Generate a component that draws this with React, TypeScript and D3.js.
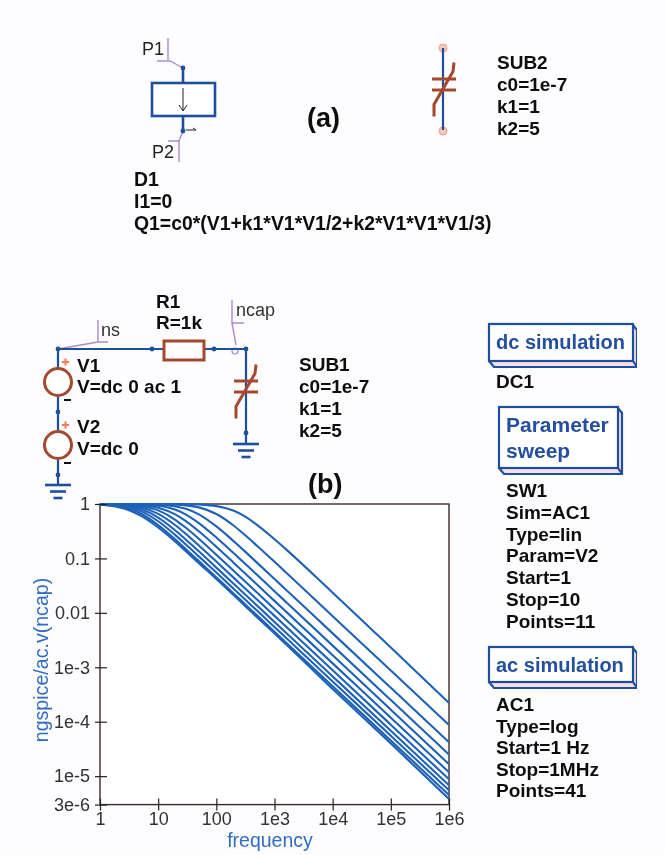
import React, { useEffect, useRef } from 'react';
import * as d3 from 'd3';

const frequencies = [1, 2, 3, 5, 10, 20, 30, 50, 100, 200, 300, 500, 1e3, 1e4, 1e5, 1e6];

// one row per Param=V2 step, top curve first.
// Ends and spot checks, the knees estimated with a
// first-order roll-off shape fitted to those readings, so not all are direct reads.
const sweepCurves: number[][] = [
  [1, 1, 1, 1, 0.999, 0.996, 0.991, 0.977, 0.915, 0.75, 0.603, 0.413, 0.225, 0.0235, 2.3e-3, 2.2e-4],
  [1, 1, 0.999, 0.998, 0.993, 0.975, 0.945, 0.867, 0.656, 0.399, 0.278, 0.171, 0.0867, 8.7e-3, 8.7e-4, 8.7e-5],
  [1, 0.999, 0.997, 0.993, 0.973, 0.903, 0.814, 0.643, 0.387, 0.206, 0.139, 0.0837, 0.042, 4.2e-3, 4.2e-4, 4.2e-5],
  [0.999, 0.997, 0.993, 0.981, 0.928, 0.781, 0.64, 0.447, 0.243, 0.124, 0.083, 0.05, 0.025, 2.5e-3, 2.5e-4, 2.5e-5],
  [0.998, 0.993, 0.984, 0.957, 0.857, 0.639, 0.484, 0.315, 0.164, 0.0827, 0.0553, 0.0332, 0.0166, 1.66e-3, 1.66e-4, 1.66e-5],
  [0.996, 0.986, 0.969, 0.921, 0.763, 0.508, 0.366, 0.23, 0.117, 0.0589, 0.0393, 0.0236, 0.0118, 1.18e-3, 1.18e-4, 1.18e-5],
  [0.994, 0.975, 0.947, 0.869, 0.66, 0.403, 0.281, 0.173, 0.0877, 0.0439, 0.0293, 0.0176, 8.8e-3, 8.8e-4, 8.8e-5, 8.8e-6],
  [0.989, 0.959, 0.915, 0.806, 0.562, 0.322, 0.221, 0.135, 0.0678, 0.034, 0.0227, 0.0136, 6.8e-3, 6.8e-4, 6.8e-5, 6.8e-6],
  [0.984, 0.94, 0.878, 0.74, 0.482, 0.265, 0.18, 0.109, 0.0549, 0.0275, 0.0183, 0.011, 5.5e-3, 5.5e-4, 5.5e-5, 5.5e-6],
  [0.976, 0.914, 0.832, 0.669, 0.41, 0.22, 0.148, 0.0896, 0.045, 0.0225, 0.015, 9e-3, 4.5e-3, 4.5e-4, 4.5e-5, 4.5e-6],
  [0.967, 0.885, 0.785, 0.61, 0.37, 0.2, 0.135, 0.082, 0.042, 0.021, 0.0139, 8.3e-3, 4.2e-3, 4e-4, 4e-5, 3.8e-6],
];

const xTicks = [1, 10, 100, 1e3, 1e4, 1e5, 1e6];
const xTickLabels = ['1', '10', '100', '1e3', '1e4', '1e5', '1e6'];
const yTicks = [1, 0.1, 0.01, 1e-3, 1e-4, 1e-5, 3e-6];
const yTickLabels = ['1', '0.1', '0.01', '1e-3', '1e-4', '1e-5', '3e-6'];

const sub2Lines = ['SUB2', 'c0=1e-7', 'k1=1', 'k2=5'];
const sub1Lines = ['SUB1', 'c0=1e-7', 'k1=1', 'k2=5'];
const d1Lines = ['D1', 'I1=0', 'Q1=c0*(V1+k1*V1*V1/2+k2*V1*V1*V1/3)'];
const sweepLines = ['SW1', 'Sim=AC1', 'Type=lin', 'Param=V2', 'Start=1', 'Stop=10', 'Points=11'];
const acLines = ['AC1', 'Type=log', 'Start=1 Hz', 'Stop=1MHz', 'Points=41'];

const WIRE = '#1f4f9f';
const BROWN = '#a5492f';
const PURPLE = '#a98cc8';
const CURVE = '#1f62b8';
const LABEL = '#2f6cc4';
const INK = '#111';
const FONT = '"Liberation Sans", Arial, sans-serif';

const x = d3.scaleLog().domain([1, 1e6]).range([100, 449]);
const y = d3.scaleLog().domain([3e-6, 1]).range([804.6, 504]);

const curveLine = d3
  .line<number>()
  .x((_, i) => x(frequencies[i]))
  .y((d) => y(d))
  .curve(d3.curveMonotoneX);

const Text = ({ x, y, lines, step = 22, size = 19 }: any) => (
  <g fontFamily={FONT} fontWeight="bold" fontSize={size} fill={INK}>
    {lines.map((t: string, i: number) => (
      <text key={t} x={x} y={y + i * step}>
        {t}
      </text>
    ))}
  </g>
);

const Dot = ({ x, y }: any) => <circle cx={x} cy={y} r={2.4} fill={WIRE} />;

const Ground = ({ x, y }: any) => (
  <g stroke={WIRE} strokeWidth={2.6}>
    <line x1={x - 13} x2={x + 13} y1={y} y2={y} />
    <line x1={x - 8} x2={x + 8} y1={y + 6.5} y2={y + 6.5} />
    <line x1={x - 4.5} x2={x + 4.5} y1={y + 13} y2={y + 13} />
  </g>
);

const Cap = ({ x, y }: any) => (
  <g stroke={BROWN} strokeWidth={3} fill="none">
    <line x1={x - 12} x2={x + 12} y1={y - 5.5} y2={y - 5.5} />
    <line x1={x - 12} x2={x + 12} y1={y + 5.5} y2={y + 5.5} />
    <path d={`M${x + 10},${y - 22} L${x + 9},${y - 13} L${x - 10},${y + 20} L${x - 10},${y + 32}`} />
  </g>
);

const Source = ({ x, y }: any) => (
  <g>
    <circle cx={x} cy={y} r={13.5} fill="#fff" stroke={BROWN} strokeWidth={3} />
    <path d={`M${x + 4},${y - 20} h7 M${x + 7.5},${y - 23.5} v7`} stroke="#ef7d55" strokeWidth={2} />
    <line x1={x + 6} x2={x + 13} y1={y + 18} y2={y + 18} stroke={INK} strokeWidth={2} />
  </g>
);

const SimBox = ({ x, y, w, h, lines, size = 20 }: any) => (
  <g>
    <path
      d={`M${x},${y + h} l5,6 h${w - 1} v-${h} l-5,-6 M${x + w},${y + h} l4,6`}
      fill="#f7dfe6"
      stroke={WIRE}
      strokeWidth={2.2}
    />
    <rect x={x} y={y} width={w} height={h} fill="#fff" stroke={WIRE} strokeWidth={2.2} />
    <g fontFamily={FONT} fontWeight="bold" fontSize={size} fill="#24509f">
      {lines.map((t: string, i: number) => (
        <text key={t} x={x + 7} y={y + 25 + i * 26}>
          {t}
        </text>
      ))}
    </g>
  </g>
);

const App = () => {
  const xAxisRef = useRef<SVGGElement>(null);
  const yAxisRef = useRef<SVGGElement>(null);

  useEffect(() => {
    const xAxis = d3
      .axisBottom(x)
      .tickValues(xTicks)
      .tickSize(6)
      .tickPadding(2)
      .tickFormat((_, i) => xTickLabels[i]);
    const yAxis = d3
      .axisLeft(y)
      .tickValues(yTicks)
      .tickSize(5)
      .tickPadding(5)
      .tickFormat((_, i) => yTickLabels[i]);

    const gx = d3.select(xAxisRef.current!).call(xAxis as any);
    const gy = d3.select(yAxisRef.current!).call(yAxis as any);

    gx.select('.domain').remove();
    gy.select('.domain').remove();
    gx.selectAll('.tick line').attr('y1', -6).attr('y2', 6).attr('stroke', '#222').attr('stroke-width', 1.2);
    gy.selectAll('.tick line').attr('x1', -5).attr('x2', 7).attr('stroke', '#222').attr('stroke-width', 1.2);
    gx.selectAll('.tick text').attr('font-size', 18).attr('font-family', FONT).attr('fill', '#333');
    gy.selectAll('.tick text').attr('font-size', 18).attr('font-family', FONT).attr('fill', '#333');
  }, []);

  return (
    <svg
      width={665}
      height={855}
      style={{ position: 'absolute', left: 0, top: 0, background: '#fdfdff' }}
    >
      <defs>
        <filter id="soft" x="0" y="0" width="100%" height="100%">
          <feGaussianBlur stdDeviation="0.4" />
        </filter>
      </defs>
      <g filter="url(#soft)">
        {/* (a) device symbol */}
        <path
          d="M168,38 V60 M157,61 H170 L183,68 M179,140 V162 M168,141 H179 L183,131"
          fill="none"
          stroke={PURPLE}
          strokeWidth={1.4}
        />
        <line x1={183} x2={183} y1={68} y2={131} stroke={WIRE} strokeWidth={2.6} />
        <rect x={152} y={83} width={63} height={33} fill="#fff" stroke={WIRE} strokeWidth={2.6} />
        <path d="M183,88 V111 M179,105 L183,111 L187,105" fill="none" stroke="#222" strokeWidth={1} />
        <path d="M186,130 H196 M193,128 L196,130" fill="none" stroke="#222" strokeWidth={1} />
        <Dot x={183} y={68} />
        <Dot x={183} y={131} />
        <g fontFamily={FONT} fontSize={18} fill="#222">
          <text x={142} y={55}>P1</text>
          <text x={152} y={158}>P2</text>
        </g>
        <Text x={134} y={186} lines={d1Lines} size={19.4} />
        <text x={307} y={127} fontFamily={FONT} fontWeight="bold" fontSize={27} fill={INK}>(a)</text>

        {/* (a) nonlinear capacitor */}
        <circle cx={443} cy={48} r={4} fill="#f8c8b8" stroke="#ef9f86" strokeWidth={1} />
        <circle cx={443} cy={131} r={4} fill="#f8c8b8" stroke="#ef9f86" strokeWidth={1} />
        <line x1={443} x2={443} y1={48} y2={130} stroke={WIRE} strokeWidth={2.2} />
        <Cap x={444} y={84.5} />
        <Text x={497} y={69} lines={sub2Lines} />

        {/* (b) schematic */}
        <path
          d="M98,320 V342 M108,342 H98 L58,349 M232,300 V325 M244,323 H232 L236,345"
          fill="none"
          stroke={PURPLE}
          strokeWidth={1.4}
        />
        <circle cx={235} cy={351} r={3} fill="none" stroke={PURPLE} strokeWidth={1.2} />
        <path d="M58,485 V349 H246 V444" fill="none" stroke={WIRE} strokeWidth={2.2} />
        <rect x={164} y={341} width={40} height={19} fill="#fff" stroke={BROWN} strokeWidth={3} />
        <Source x={58} y={382} />
        <Source x={58} y={445} />
        <Cap x={246} y={386.5} />
        {[[58, 349], [152, 349], [214, 349], [246, 349], [58, 412], [58, 475], [246, 433]].map(([a, b]) => (
          <Dot key={`${a}-${b}`} x={a} y={b} />
        ))}
        <Ground x={58} y={485} />
        <Ground x={246} y={444} />
        <g fontFamily={FONT} fontSize={18} fill="#333">
          <text x={101} y={336}>ns</text>
          <text x={236} y={316}>ncap</text>
        </g>
        <Text x={156} y={308} lines={['R1', 'R=1k']} step={21} />
        <Text x={77} y={372} lines={['V1', 'V=dc 0 ac 1']} step={21} />
        <Text x={77} y={433} lines={['V2', 'V=dc 0']} step={22} />
        <Text x={299} y={371} lines={sub1Lines} />
        <text x={308} y={493} fontFamily={FONT} fontWeight="bold" fontSize={27} fill={INK}>(b)</text>

        {/* simulation blocks */}
        <SimBox x={489} y={324} w={144} h={37} lines={['dc simulation']} />
        <Text x={496} y={388} lines={['DC1']} />
        <SimBox x={499} y={407} w={119} h={61} lines={['Parameter', 'sweep']} size={21} />
        <Text x={506} y={497} lines={sweepLines} step={21.8} />
        <SimBox x={489} y={647} w={144} h={35} lines={['ac simulation']} />
        <Text x={496} y={711} lines={acLines} step={21.5} />

        {/* plot */}
        <rect
          x={x(1)}
          y={y(1)}
          width={x(1e6) - x(1)}
          height={y(3e-6) - y(1)}
          fill="#fff"
          stroke="#3a2a28"
          strokeWidth={1.4}
        />
        <g fill="none" stroke={CURVE} strokeWidth={2.1}>
          {sweepCurves.map((c, i) => (
            <path key={i} d={curveLine(c) ?? ''} />
          ))}
        </g>
        <g ref={xAxisRef} transform={`translate(0,${y(3e-6)})`} />
        <g ref={yAxisRef} transform={`translate(${x(1)},0)`} />
        <text
          transform="translate(48,660) rotate(-90)"
          textAnchor="middle"
          fontFamily={FONT}
          fontSize={19.6}
          fill={LABEL}
        >
          ngspice/ac.v(ncap)
        </text>
        <text x={270} y={847} textAnchor="middle" fontFamily={FONT} fontSize={19.5} fill={LABEL}>
          frequency
        </text>
      </g>
    </svg>
  );
};

export default App;
